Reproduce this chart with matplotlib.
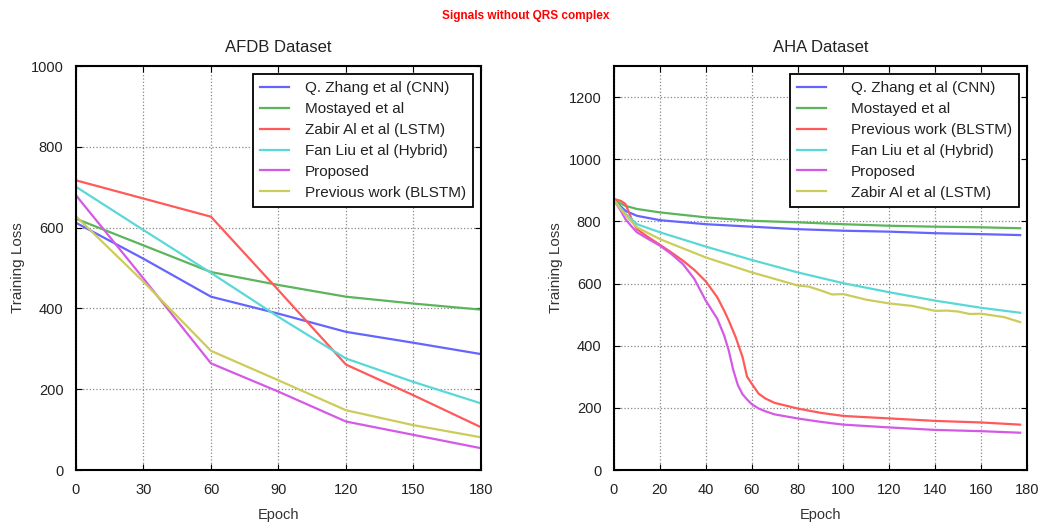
import matplotlib
matplotlib.use('Agg')
import matplotlib.pyplot as plt

plt.rcParams['font.family'] = ['Liberation Sans', 'DejaVu Sans']

# AFDB dataset (left)
afdb_epoch = [0, 30, 60, 90, 120, 150, 180]
afdb_zhang = [612, 523, 429, 387, 342, 315, 287]
afdb_mostayed = [622, 556, 490, 458, 429, 412, 397]
afdb_zabir = [717, 672, 627, 445, 261, 185, 106]
afdb_fanliu = [701, 594, 488, 379, 276, 218, 165]
afdb_proposed = [680, 474, 264, 194, 120, 87, 54]
afdb_prev = [628, 466, 295, 222, 148, 111, 81]

# AHA dataset (right)
aha_epoch_smooth = [0, 5, 10, 20, 40, 60, 80, 100, 120, 140, 160, 177]
aha_zhang = [868, 834, 818, 804, 791, 783, 775, 770, 767, 762, 759, 756]
aha_mostayed = [868, 850, 840, 829, 813, 802, 797, 791, 786, 783, 781, 778]
aha_fanliu = [868, 825, 791, 765, 719, 676, 636, 601, 572, 545, 522, 506]

aha_epoch_prev = [0, 3, 5, 8, 10, 15, 20, 25, 30, 35, 40, 45, 48, 50, 53, 56, 58,
                  60, 63, 66, 70, 80, 90, 100, 120, 140, 160, 177]
aha_prev = [872, 866, 856, 802, 775, 749, 725, 700, 674, 644, 607, 556, 513, 481,
            428, 364, 300, 278, 246, 230, 216, 198, 184, 174, 166, 158, 153, 146]

aha_epoch_prop = [0, 3, 5, 8, 10, 15, 20, 25, 30, 35, 40, 45, 48, 50, 52, 54, 56,
                  58, 60, 63, 66, 70, 80, 90, 100, 120, 140, 160, 177]
aha_proposed = [868, 834, 807, 781, 765, 743, 722, 695, 663, 615, 545, 487, 433,
                385, 321, 273, 244, 227, 212, 198, 189, 179, 166, 155, 146, 137,
                129, 125, 120]

aha_epoch_zabir = [0, 5, 10, 20, 40, 60, 80, 85, 90, 95, 100, 110, 120, 130, 140,
                   145, 150, 155, 160, 170, 177]
aha_zabir = [868, 820, 781, 743, 684, 636, 594, 590, 578, 565, 566, 548, 536, 528,
             512, 513, 510, 502, 503, 492, 476]

c_blue = '#6464ff'
c_green = '#5cb45c'
c_red = '#ff5a5a'
c_cyan = '#5ad8d8'
c_mag = '#d45ae6'
c_yel = '#cccc5a'

fig = plt.figure(figsize=(10.51, 5.29), dpi=100)
ax1 = fig.add_axes([0.0723, 0.1115, 0.3853, 0.7637])
ax2 = fig.add_axes([0.5842, 0.1115, 0.3930, 0.7637])

lw = 1.6
ax1.plot(afdb_epoch, afdb_zhang, color=c_blue, lw=lw, label='Q. Zhang et al (CNN)')
ax1.plot(afdb_epoch, afdb_mostayed, color=c_green, lw=lw, label='Mostayed et al')
ax1.plot(afdb_epoch, afdb_zabir, color=c_red, lw=lw, label='Zabir Al et al (LSTM)')
ax1.plot(afdb_epoch, afdb_fanliu, color=c_cyan, lw=lw, label='Fan Liu et al (Hybrid)')
ax1.plot(afdb_epoch, afdb_proposed, color=c_mag, lw=lw, label='Proposed')
ax1.plot(afdb_epoch, afdb_prev, color=c_yel, lw=lw, label='Previous work (BLSTM)')
ax1.set_xlim(0, 180)
ax1.set_ylim(0, 1000)
ax1.set_xticks(range(0, 181, 30))
ax1.set_yticks(range(0, 1001, 200))
ax1.set_title('AFDB Dataset', fontsize=12, pad=10, color='#222222')

ax2.plot(aha_epoch_smooth, aha_zhang, color=c_blue, lw=lw, label='Q. Zhang et al (CNN)')
ax2.plot(aha_epoch_smooth, aha_mostayed, color=c_green, lw=lw, label='Mostayed et al')
ax2.plot(aha_epoch_prev, aha_prev, color=c_red, lw=lw, label='Previous work (BLSTM)')
ax2.plot(aha_epoch_smooth, aha_fanliu, color=c_cyan, lw=lw, label='Fan Liu et al (Hybrid)')
ax2.plot(aha_epoch_prop, aha_proposed, color=c_mag, lw=lw, label='Proposed')
ax2.plot(aha_epoch_zabir, aha_zabir, color=c_yel, lw=lw, label='Zabir Al et al (LSTM)')
ax2.set_xlim(0, 180)
ax2.set_ylim(0, 1300)
ax2.set_xticks(range(0, 181, 20))
ax2.set_yticks(range(0, 1201, 200))
ax2.set_title('AHA Dataset', fontsize=12, pad=10, color='#222222')

for ax, htp in ((ax1, 1.0), (ax2, 1.6)):
    ax.grid(True, linestyle=':', color='#888888', lw=0.9)
    ax.tick_params(direction='in', top=True, right=True, labelsize=10.5, pad=9,
                   length=4, labelcolor='#222222')
    ax.set_xlabel('Epoch', fontsize=10.5, labelpad=8, color='#333333')
    ax.set_ylabel('Training Loss', fontsize=11, color='#333333')
    for s in ax.spines.values():
        s.set_linewidth(1.5)
    leg = ax.legend(loc='upper right', fontsize=11, fancybox=False, framealpha=1,
                    edgecolor='black', handlelength=1.9, labelspacing=0.45,
                    borderpad=0.5, handletextpad=htp, borderaxespad=0.5)
    leg.get_frame().set_linewidth(1.3)
    for t in leg.get_texts():
        t.set_color('#222222')

fig.text(0.5, 0.965, 'Signals without QRS complex', color='red', fontweight='bold',
         fontsize=8.5, ha='center')

fig.savefig('out.png', dpi=100)
